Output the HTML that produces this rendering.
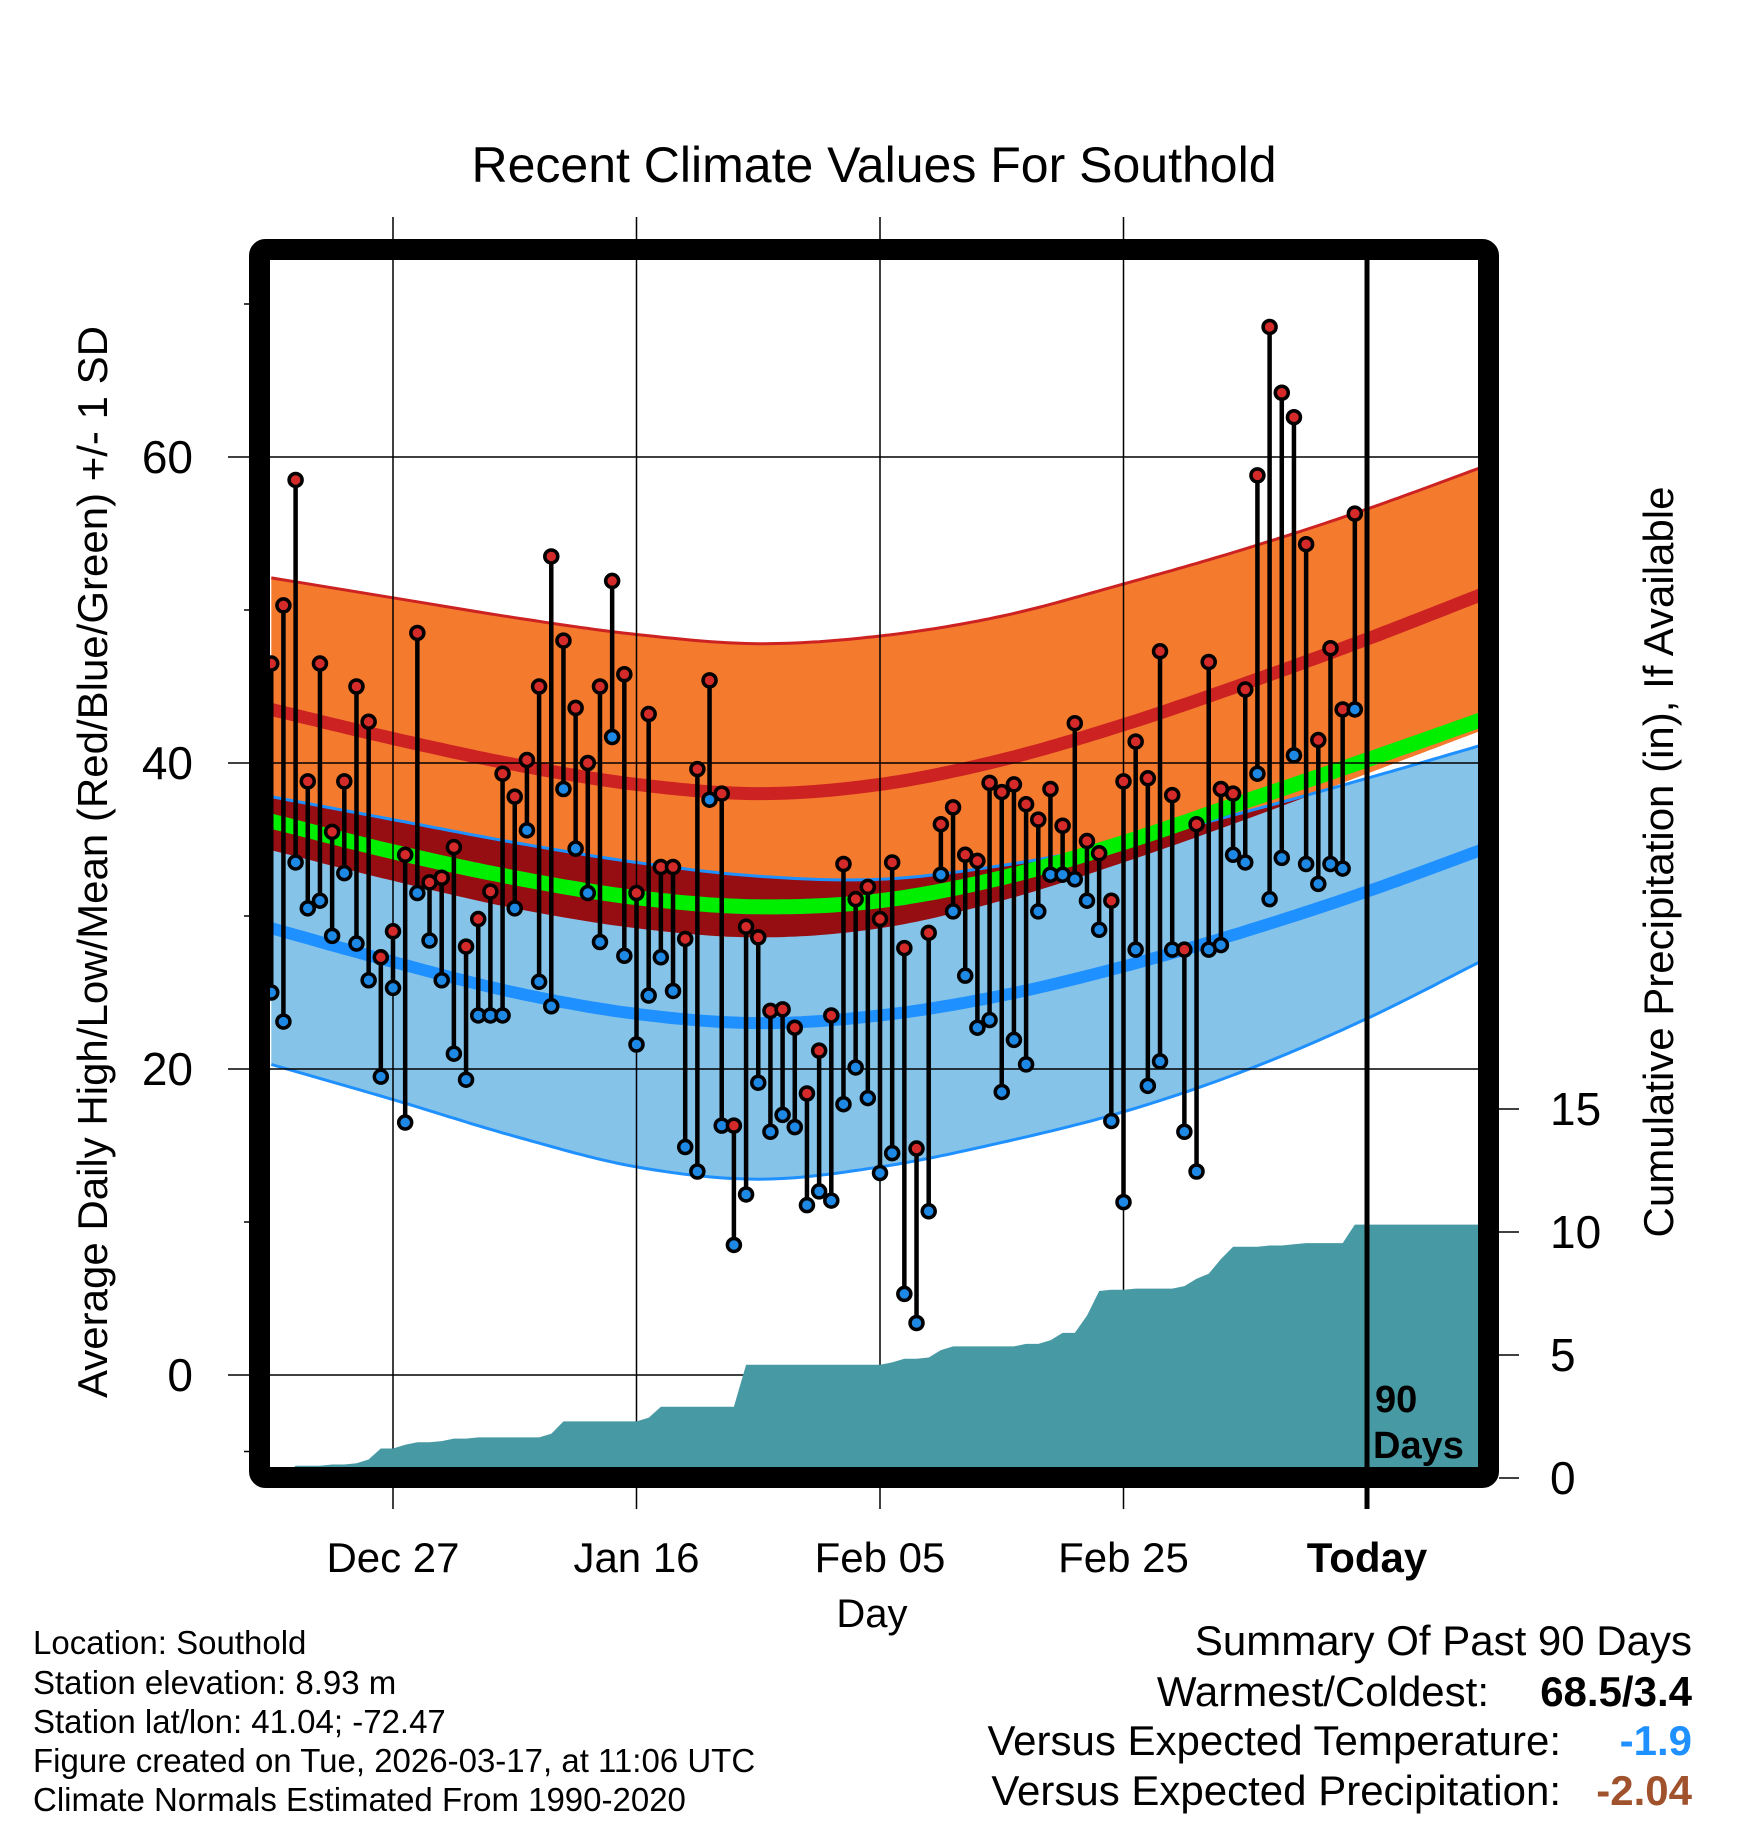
<!DOCTYPE html>
<html><head><meta charset="utf-8"><style>
html,body{margin:0;padding:0;background:#fff;}
svg{display:block;font-family:"Liberation Sans",sans-serif;}
</style></head><body>
<svg id="chart" width="1748" height="1828" viewBox="0 0 1748 1828" xmlns="http://www.w3.org/2000/svg">
<defs><clipPath id="plotclip"><rect x="270" y="260" width="1208" height="1207"/></clipPath></defs>
<text x="874" y="182" font-size="50" text-anchor="middle">Recent Climate Values For Southold</text>
<g id="bands" clip-path="url(#plotclip)"></g>
<g id="grid"></g>
<g id="precip" clip-path="url(#plotclip)"></g>
<g id="marks" clip-path="url(#plotclip)"></g>
<g id="axes"></g>
<text transform="translate(107,862) rotate(-90)" font-size="42" text-anchor="middle">Average Daily High/Low/Mean (Red/Blue/Green) +/- 1 SD</text>
<text transform="translate(1673,862) rotate(-90)" font-size="42" text-anchor="middle">Cumulative Precipitation (in), If Available</text>
<text x="872" y="1627" font-size="40" text-anchor="middle">Day</text>
<text x="1375" y="1412" font-size="38" font-weight="bold">90</text>
<text x="1373" y="1458" font-size="38" font-weight="bold">Days</text>
<g font-size="33">
<text x="33" y="1654">Location: Southold</text>
<text x="33" y="1694">Station elevation: 8.93 m</text>
<text x="33" y="1733">Station lat/lon: 41.04; -72.47</text>
<text x="33" y="1772">Figure created on Tue, 2026-03-17, at 11:06 UTC</text>
<text x="33" y="1811">Climate Normals Estimated From 1990-2020</text>
</g>
<g font-size="42">
<text x="1692" y="1655" text-anchor="end">Summary Of Past 90 Days</text>
<text x="1489" y="1706" text-anchor="end">Warmest/Coldest:</text>
<text x="1692" y="1706" text-anchor="end" font-weight="bold">68.5/3.4</text>
<text x="1561" y="1755" text-anchor="end">Versus Expected Temperature:</text>
<text x="1692" y="1755" text-anchor="end" font-weight="bold" fill="#1E90FF">-1.9</text>
<text x="1561" y="1805" text-anchor="end">Versus Expected Precipitation:</text>
<text x="1692" y="1805" text-anchor="end" font-weight="bold" fill="#A0522D">-2.04</text>
</g>
</svg>
<script>
const days = [];
for (let d = -10; d <= 79; d++) days.push(d);
const highs = [46.5,50.3,58.5,38.8,46.5,35.5,38.8,45,42.7,27.3,29,34,48.5,32.2,32.5,34.5,28,29.8,31.6,39.3,37.8,40.2,45,53.5,48,43.6,40,45,51.9,45.8,31.5,43.2,33.2,33.2,28.5,39.6,45.4,38,16.3,29.3,28.6,23.8,23.9,22.7,18.4,21.2,23.5,33.4,31.1,31.9,29.8,33.5,27.9,14.8,28.9,36,37.1,34,33.6,38.7,38.1,38.6,37.3,36.3,38.3,35.9,42.6,34.9,34.1,31,38.8,41.4,39,47.3,37.9,27.8,36,46.6,38.3,38,44.8,58.8,68.5,64.2,62.6,54.3,41.5,47.5,43.5,56.3];
const lows = [25,23.1,33.5,30.5,31,28.7,32.8,28.2,25.8,19.5,25.3,16.5,31.5,28.4,25.8,21,19.3,23.5,23.5,23.5,30.5,35.6,25.7,24.1,38.3,34.4,31.5,28.3,41.7,27.4,21.6,24.8,27.3,25.1,14.9,13.3,37.6,16.3,8.5,11.8,19.1,15.9,17,16.2,11.1,12,11.4,17.7,20.1,18.1,13.2,14.5,5.3,3.4,10.7,32.7,30.3,26.1,22.7,23.2,18.5,21.9,20.3,30.3,32.7,32.7,32.4,31,29.1,16.6,11.3,27.8,18.9,20.5,27.8,15.9,13.3,27.8,28.1,34,33.5,39.3,31.1,33.8,40.5,33.4,32.1,33.4,33.1,43.5];
const precip = [0,0,0.5,0.5,0.5,0.55,0.55,0.6,0.75,1.2,1.2,1.35,1.45,1.45,1.5,1.6,1.6,1.65,1.65,1.65,1.65,1.65,1.65,1.8,2.3,2.3,2.3,2.3,2.3,2.3,2.3,2.45,2.9,2.9,2.9,2.9,2.9,2.9,2.9,4.6,4.6,4.6,4.6,4.6,4.6,4.6,4.6,4.6,4.6,4.6,4.6,4.7,4.85,4.85,4.9,5.2,5.35,5.35,5.35,5.35,5.35,5.35,5.45,5.45,5.6,5.9,5.9,6.6,7.6,7.65,7.65,7.7,7.7,7.7,7.7,7.8,8.1,8.3,8.9,9.4,9.4,9.4,9.45,9.45,9.5,9.55,9.55,9.55,9.55,10.3];
const normDays = [-10,0,10,20,30,40,50,60,70,80,90];
const highPlusSD = [52.1,50.8,49.5,48.4,47.8,48.3,49.6,51.7,54.0,56.6,59.5];
const meanHigh = [43.5,41.6,39.9,38.6,38.0,38.6,40.2,42.5,45.2,48.1,51.2];
const highMinusSD = [34.3,32.3,30.5,29.2,28.6,29.2,31.0,33.5,36.3,39.3,42.3];
const lowPlusSD = [37.8,36.3,34.8,33.5,32.6,32.4,33.3,34.8,36.8,39.0,41.3];
const meanTemp = [36.2,34.2,32.5,31.2,30.6,31.0,32.5,34.8,37.5,40.2,43.0];
const meanLow = [29.2,27.0,25.0,23.6,23.0,23.5,24.8,26.7,29.0,31.6,34.5];
const lowMinusSD = [20.3,18.0,15.6,13.6,12.8,13.6,15.2,17.2,19.9,23.3,27.3];
const xTickDays = [0,20,40,60,80];
const xTickLabels = ["Dec 27","Jan 16","Feb 05","Feb 25","Today"];
const yTicks = [0,20,40,60];
const yMinorTicks = [-5,10,30,50,70];
const pTicks = [0,5,10,15];

const NS = "http://www.w3.org/2000/svg";
const X = d => 393 + d * 12.175;
const Y = t => 1375 - t * 15.3;
const P = v => 1478 - v * 24.6;
function mk(tag, attrs, parent) {
  const e = document.createElementNS(NS, tag);
  for (const k in attrs) e.setAttribute(k, attrs[k]);
  parent.appendChild(e);
  return e;
}
function interp(arr, d) {
  let i = 0;
  while (i < normDays.length - 2 && d > normDays[i + 1]) i++;
  const t = (d - normDays[i]) / (normDays[i + 1] - normDays[i]);
  const n = arr.length;
  const p1 = arr[i], p2 = arr[i + 1];
  const p0 = i > 0 ? arr[i - 1] : 2 * p1 - p2;
  const p3 = i + 2 < n ? arr[i + 2] : 2 * p2 - p1;
  return 0.5 * ((2 * p1) + (-p0 + p2) * t + (2 * p0 - 5 * p1 + 4 * p2 - p3) * t * t + (-p0 + 3 * p1 - 3 * p2 + p3) * t * t * t);
}
const fine = [];
for (let d = -10; d <= 90; d += 0.5) fine.push(d);
function linePts(arr) { return fine.map(d => X(d).toFixed(1) + "," + Y(interp(arr, d)).toFixed(1)); }
function bandPts(top, bot) { return linePts(top).concat(linePts(bot).reverse()).join(" "); }

const bands = document.getElementById("bands");
let e;
e = mk("polygon", {points: bandPts(highPlusSD, highMinusSD), fill: "#F47A2E"}, bands);


e = mk("polygon", {points: bandPts(lowPlusSD, lowMinusSD), fill: "#86C3E8"}, bands);


const ovTop = fine.map(d => X(d).toFixed(1) + "," + Y(interp(lowPlusSD, d)).toFixed(1));
const ovBot = fine.map(d => X(d).toFixed(1) + "," + Y(Math.min(interp(lowPlusSD, d), interp(highMinusSD, d))).toFixed(1)).reverse();
e = mk("polygon", {points: ovTop.concat(ovBot).join(" "), fill: "#960E12"}, bands);


const lines = [[highPlusSD, "#CC2222", 3, 'high-plus-sd-line'], [lowPlusSD, "#1E90FF", 3, 'low-plus-sd-line'], [lowMinusSD, "#1E90FF", 3, 'low-minus-sd-line'], [meanHigh, "#CC2222", 13, 'mean-high-line'], [meanTemp, "#00EE00", 15, 'mean-line'], [meanLow, "#1E90FF", 12, 'mean-low-line']];
lines.forEach(l => {
  const p = mk("polyline", {points: linePts(l[0]).join(" "), fill: "none", stroke: l[1], "stroke-width": l[2]}, bands);
  
  
});

const grid = document.getElementById("grid");
xTickDays.forEach((d, i) => {
  if (i < 4) {
    const g = mk("line", {x1: X(d), x2: X(d), y1: 217, y2: 1509, stroke: "#000", "stroke-width": 1.5}, grid);
    
    
  }
});
yTicks.forEach(t => {
  const g = mk("line", {x1: 228, x2: 1478, y1: Y(t), y2: Y(t), stroke: "#000", "stroke-width": 1.5}, grid);
  
  
});

const pg = document.getElementById("precip");
const pp = [X(-10) + "," + P(0)];
days.forEach((d, i) => pp.push(X(d).toFixed(1) + "," + P(precip[i]).toFixed(1)));
pp.push("1480," + P(precip[precip.length - 1]).toFixed(1));
pp.push("1480," + P(0));
e = mk("polygon", {points: pp.join(" "), fill: "#4799A3"}, pg);



const marks = document.getElementById("marks");
days.forEach((d, i) => {
  const s = mk("line", {x1: X(d), x2: X(d), y1: Y(highs[i]), y2: Y(lows[i]), stroke: "#000", "stroke-width": 4.5}, marks);
  
  
});
days.forEach((d, i) => {
  const h = mk("circle", {cx: X(d), cy: Y(highs[i]), r: 6.5, fill: "#D42A2A", stroke: "#000", "stroke-width": 3.5}, marks);
  
  
  const l = mk("circle", {cx: X(d), cy: Y(lows[i]), r: 6.5, fill: "#1E88E5", stroke: "#000", "stroke-width": 3.5}, marks);
  
  
});

const axes = document.getElementById("axes");
e = mk("line", {x1: 1367, x2: 1367, y1: 250, y2: 1509, stroke: "#000", "stroke-width": 5}, axes);


e = mk("rect", {x: 259.5, y: 249.5, width: 1229, height: 1228, rx: 6, fill: "none", stroke: "#000", "stroke-width": 21}, axes);


yMinorTicks.forEach(t => {
  const m = mk("line", {x1: 244, x2: 252, y1: Y(t), y2: Y(t), stroke: "#000", "stroke-width": 1.5}, axes);
  
  
});
yTicks.forEach(t => {
  const tx = mk("text", {x: 193, y: Y(t) + 16, "font-size": 46, "text-anchor": "end"}, axes);
  tx.textContent = t;
  
  
});
xTickDays.forEach((d, i) => {
  const tx = mk("text", {x: X(d), y: 1572, "font-size": 42, "text-anchor": "middle"}, axes);
  if (i === 4) tx.setAttribute("font-weight", "bold");
  tx.textContent = xTickLabels[i];
  
  
});
pTicks.forEach(v => {
  const t = mk("line", {x1: 1499, x2: 1519, y1: P(v), y2: P(v), stroke: "#000", "stroke-width": 1.5}, axes);
  
  
  const tx = mk("text", {x: 1550, y: P(v) + 16, "font-size": 46}, axes);
  tx.textContent = v;
  
  
});
</script>
</body></html>
